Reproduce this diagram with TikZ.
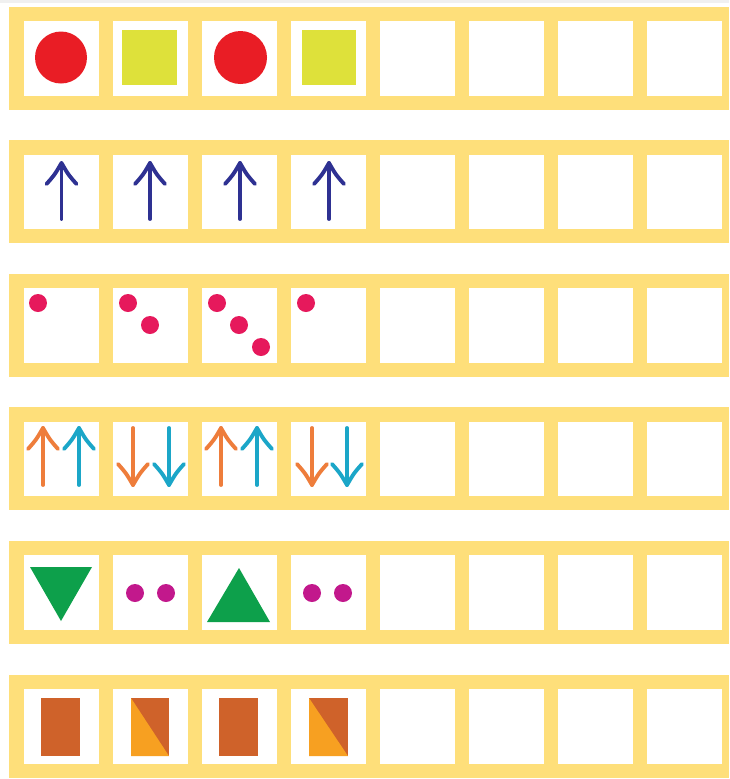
\documentclass[tikz,border=0pt]{standalone}
\usetikzlibrary{calc}
\definecolor{bandyellow}{RGB}{254,223,122}
\definecolor{rred}{RGB}{233,29,37}
\definecolor{lime}{RGB}{222,225,58}
\definecolor{navy}{RGB}{46,49,146}
\definecolor{pinkdot}{RGB}{230,25,92}
\definecolor{arrorange}{RGB}{238,125,59}
\definecolor{arrcyan}{RGB}{27,166,200}
\definecolor{trigreen}{RGB}{13,160,75}
\definecolor{magdot}{RGB}{194,24,140}
\definecolor{darkor}{RGB}{207,98,42}
\definecolor{lightor}{RGB}{247,160,33}
\newcommand{\myuparr}[4]{%
  \draw[arrline,#4] (#1,#3) -- (#1,#2);
  \draw[arrline,#4] ($(#1,#2)+(-15,21)$) .. controls ($(#1,#2)+(-7,12)$) .. (#1,#2)
     .. controls ($(#1,#2)+(7,12)$) .. ($(#1,#2)+(15,21)$);}
\newcommand{\mydownarr}[4]{%
  \draw[arrline,#4] (#1,#2) -- (#1,#3);
  \draw[arrline,#4] ($(#1,#3)+(-15,-21)$) .. controls ($(#1,#3)+(-7,-12)$) .. (#1,#3)
     .. controls ($(#1,#3)+(7,-12)$) .. ($(#1,#3)+(15,-21)$);}
\begin{document}
\begin{tikzpicture}[x=0.75pt,y=-0.75pt,
  band/.style={fill=bandyellow},
  cellbox/.style={fill=white},
  arrline/.style={line width=2.9pt,line cap=round,line join=round},
  dotpink/.style={fill=pinkdot},
  dotmag/.style={fill=magdot}]
\fill[white] (0,0) rectangle (729,779);
\useasboundingbox (0,0) rectangle (729,779);
\fill[gray!12] (0,0) rectangle (729,3);
% bands and cells
\foreach \r in {0,...,5}{
  \pgfmathsetmacro{\ct}{21+133.6*\r}
  \fill[band] (9,\ct-14.5) rectangle (729,\ct+88.5);
  \foreach \i in {0,...,7}{
    \fill[cellbox] (24+89*\i,\ct) rectangle (24+89*\i+75,\ct+74.5);
  }
}
% row 1
\fill[rred] (61,57.5) circle (26);
\fill[lime] (122,30) rectangle (177,85);
\fill[rred] (240.5,57.5) circle (26.5);
\fill[lime] (302,30) rectangle (356,85);
% row 2
\foreach \x in {61.5,150,240,329}{ \myuparr{\x}{163}{219}{navy} }
% row 3
\fill[dotpink] (38,303) circle (9);
\fill[dotpink] (128,303) circle (9);
\fill[dotpink] (150,325) circle (9);
\fill[dotpink] (217,303) circle (9);
\fill[dotpink] (239,325) circle (9);
\fill[dotpink] (261,347) circle (9);
\fill[dotpink] (306,303) circle (9);
% row 4
\myuparr{43}{428}{485}{arrorange}
\myuparr{79}{428}{485}{arrcyan}
\mydownarr{133}{428}{485}{arrorange}
\mydownarr{169}{428}{485}{arrcyan}
\myuparr{221}{428}{485}{arrorange}
\myuparr{257}{428}{485}{arrcyan}
\mydownarr{312}{428}{485}{arrorange}
\mydownarr{347}{428}{485}{arrcyan}
% row 5
\fill[trigreen] (30,567) -- (92,567) -- (61,621) -- cycle;
\fill[trigreen] (207,622) -- (270,622) -- (239,568) -- cycle;
\fill[dotmag] (135,593) circle (9);
\fill[dotmag] (166,593) circle (9);
\fill[dotmag] (312,593) circle (9);
\fill[dotmag] (343,593) circle (9);
% row 6
\fill[darkor] (41,698) rectangle (80,756);
\fill[darkor] (131,698) rectangle (169,756);
\fill[lightor] (131,698) -- (169,756) -- (131,756) -- cycle;
\fill[darkor] (219,698) rectangle (258,756);
\fill[darkor] (309,698) rectangle (348,756);
\fill[lightor] (309,698) -- (348,756) -- (309,756) -- cycle;
\end{tikzpicture}
\end{document}
